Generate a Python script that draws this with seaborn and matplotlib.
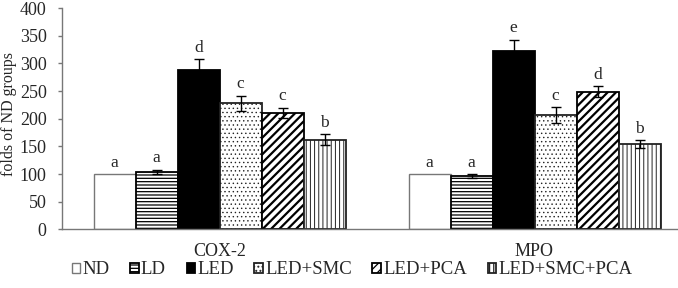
import matplotlib
matplotlib.use("Agg")
import matplotlib.pyplot as plt
import seaborn as sns
import pandas as pd

groups = ["ND", "LD", "LED", "LED+SMC", "LED+PCA", "LED+SMC+PCA"]
markers = ["COX-2", "MPO"]
cox2 = [100, 104, 289, 228, 211, 162]
cox2_err = [0, 4, 19, 14, 9, 10]
cox2_sig = ["a", "a", "d", "c", "c", "b"]
mpo = [100, 96, 322, 207, 249, 154]
mpo_err = [0, 4, 21, 14, 10, 7]
mpo_sig = ["a", "a", "e", "c", "d", "b"]
yticks = [0, 50, 100, 150, 200, 250, 300, 350, 400]

rows = []
for m, vals, errs, sigs in [("COX-2", cox2, cox2_err, cox2_sig), ("MPO", mpo, mpo_err, mpo_sig)]:
    for g, v, e, s in zip(groups, vals, errs, sigs):
        rows.append(dict(marker=m, group=g, value=v, err=e, sig=s))
df = pd.DataFrame(rows)

sns.set_style("white")
plt.rcParams["font.family"] = ["Liberation Serif", "DejaVu Serif"]
plt.rcParams["hatch.linewidth"] = 0.9

fig = plt.figure(figsize=(6.78, 2.88), dpi=100)
ax = fig.add_axes([62 / 678, 1 - 229.3 / 288, (692 - 62) / 678, (229.3 - 8.2) / 288])

sns.barplot(data=df, x="marker", y="value", hue="group", order=markers,
            hue_order=groups, errorbar=None, width=0.8, palette=["white"] * 6,
            ax=ax, legend=False)

styles = {
    "ND": dict(fc="white", hatch=None, ec="#777777", hc=None, lw=1.0, hlw=None),
    "LD": dict(fc="white", hatch="-----", ec="black", hc="black", lw=1.3, hlw=0.9),
    "LED": dict(fc="black", hatch=None, ec="black", hc=None, lw=1.3, hlw=None),
    "LED+SMC": dict(fc="white", hatch="....", ec="#222222", hc="#a0a0a0", lw=1.3, hlw=0.5),
    "LED+PCA": dict(fc="white", hatch="////", ec="black", hc="black", lw=1.3, hlw=1.6),
    "LED+SMC+PCA": dict(fc="white", hatch="||||", ec="#222222", hc="#707070", lw=1.3, hlw=0.7),
}

bar_containers = list(ax.containers)
for cont, g in zip(bar_containers, groups):
    st = styles[g]
    cont.set_label(g)
    for p, m in zip(cont.patches, markers):
        p.set_facecolor(st["fc"])
        p.set_edgecolor(st["ec"])
        p.set_linewidth(st["lw"])
        if st["hatch"]:
            p.set_hatch(st["hatch"])
            try:
                p.set_hatchcolor(st["hc"])
            except Exception:
                pass
            try:
                p.set_hatch_linewidth(st["hlw"])
            except Exception:
                pass
        row = df[(df.marker == m) & (df.group == g)].iloc[0]
        xc = p.get_x() + p.get_width() / 2
        h = p.get_height()
        if row.err > 0:
            ax.errorbar(xc, h, yerr=row.err, fmt="none", ecolor="black",
                        elinewidth=1.0, capsize=3.5, capthick=1.0, zorder=5)
        ax.text(xc, h + row.err + 6, row.sig, ha="center", va="bottom",
                fontsize=12.5)

ax.set_ylim(0, 400)
ax.set_xlim(-0.5, 1.5)
ax.set_yticks(yticks)
ax.set_yticklabels([str(t) for t in yticks], fontsize=13)
ax.set_xticks([0, 1])
ax.set_xticklabels(markers, fontsize=13)
ax.set_xticks([0.5], minor=True)
ax.tick_params(axis="x", which="major", length=0, pad=10)
ax.tick_params(axis="x", which="minor", length=5, width=1, color="#777777", direction="out")
ax.tick_params(axis="y", length=3, width=1, color="#777777", direction="out", pad=8, left=True)
ax.set_xlabel("")
ax.set_ylabel("folds of ND groups", fontsize=11.5)
ax.yaxis.set_label_coords(-45 / 630, 0.52)
for side in ["top", "right"]:
    ax.spines[side].set_visible(False)
for side in ["left", "bottom"]:
    ax.spines[side].set_color("#777777")
    ax.spines[side].set_linewidth(1.0)

leg = fig.legend(handles=[c.patches[0] for c in bar_containers], labels=groups,
                 loc="center", bbox_to_anchor=(352 / 678, 1 - 270 / 288),
                 ncol=6, frameon=False, fontsize=13.5, handlelength=0.45,
                 handleheight=0.45, handletextpad=0.12, columnspacing=1.1,
                 borderpad=0)

fig.savefig("out.png", dpi=100)
